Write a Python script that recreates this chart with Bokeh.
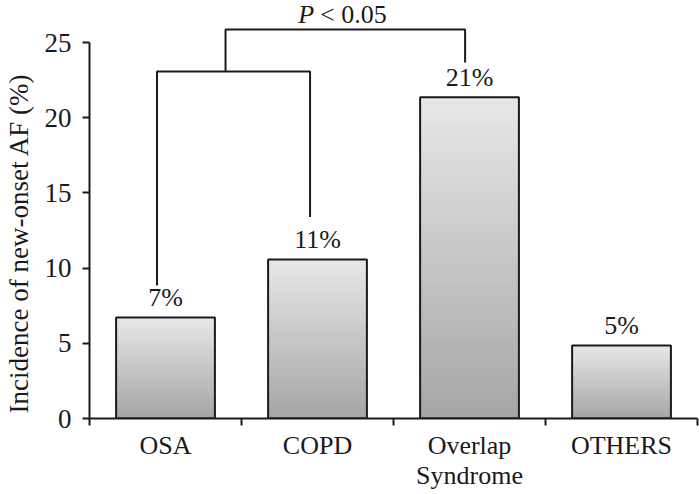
import numpy as np
from bokeh.plotting import figure
from bokeh.models import Range1d, FixedTicker
from bokeh.core.properties import value
from bokeh.embed import file_html
from bokeh.resources import INLINE

# ---- data ----
categories = ["OSA", "COPD", "Overlap\nSyndrome", "OTHERS"]
incidence = [6.72, 10.57, 21.36, 4.86]
pct_labels = ["7%", "11%", "21%", "5%"]
y_ticks = [0, 5, 10, 15, 20, 25]
y_title = "Incidence of new-onset AF (%)"

# significance brackets (data coordinates)
inner_bracket_x = [0.444, 0.444, 1.451, 1.451]
inner_bracket_y = [8.84, 23.07, 23.07, 13.4]
outer_bracket_x = [0.895, 0.895, 2.471, 2.471]
outer_bracket_y = [23.07, 25.86, 25.86, 23.67]
p_text_x = 1.477
p_text_y = 26.33

FONT = "Liberation Serif"
FS = "26px"
FS_AX = "27px"
INK = "#1a1a1a"

W, H = 699, 494
frame_left, frame_bottom_px = 85, 418
px_per_unit_y = 15.04
px_per_cat = 153.0

centers = [i + 0.5 for i in range(len(categories))]
bar_w = 0.65

x_end = (W - frame_left) / px_per_cat
y_end = frame_bottom_px / px_per_unit_y

p = figure(width=W, height=H, output_backend="svg", toolbar_location=None,
           x_range=Range1d(0, x_end), y_range=Range1d(0, y_end),
           min_border_left=frame_left, min_border_bottom=H - frame_bottom_px,
           min_border_top=0, min_border_right=0)
p.outline_line_color = None
p.xgrid.visible = False
p.ygrid.visible = False
p.background_fill_color = "white"
p.border_fill_color = "white"

# gradient bars: overlapping strips (light top -> darker bottom)
n = 60
top_c = np.array([232, 232, 232])
bot_c = np.array([166, 166, 166])
L, R, B, T, C = [], [], [], [], []
for cx, v in zip(centers, incidence):
    edges = np.linspace(0, v, n + 1)
    for k in range(n - 1, -1, -1):
        f = (k + 0.5) / n  # 0 bottom -> 1 top
        col = (bot_c + (top_c - bot_c) * f).astype(int)
        L.append(cx - bar_w / 2); R.append(cx + bar_w / 2)
        B.append(0); T.append(edges[k + 1])
        C.append("#%02x%02x%02x" % tuple(col))
p.quad(left=L, right=R, bottom=B, top=T, fill_color=C, line_color=None)
p.vbar(x=centers, top=incidence, width=bar_w, bottom=0, fill_color=None,
       line_color=INK, line_width=2)

# percentage labels (baseline ~10px above bar)
label_y = [v + 10 / px_per_unit_y for v in incidence]
p.text(x=centers, y=label_y, text=pct_labels, text_align="center",
       text_baseline="alphabetic", y_offset=-10, text_font=value(FONT),
       text_font_size=FS, text_color=INK)

# brackets
p.line(inner_bracket_x, inner_bracket_y, line_color=INK, line_width=2)
p.line(outer_bracket_x, outer_bracket_y, line_color=INK, line_width=2)
p.text(x=[p_text_x], y=[p_text_y], text=["P"], text_align="right",
       text_baseline="alphabetic", y_offset=-8, text_font=value(FONT),
       text_font_style="italic", text_font_size=FS, text_color=INK)
p.text(x=[p_text_x], y=[p_text_y], text=["< 0.05"], text_align="left",
       text_baseline="alphabetic", x_offset=6, y_offset=-8, text_font=value(FONT),
       text_font_size=FS, text_color=INK)

# x axis
xa = p.xaxis[0]
xa.ticker = FixedTicker(ticks=centers, minor_ticks=list(range(len(categories) + 1)))
xa.major_label_overrides = {c: lab for c, lab in zip(centers, categories)}
xa.bounds = (0, len(categories))
xa.axis_line_width = 2
xa.axis_line_color = INK
xa.major_tick_line_color = None
xa.major_tick_out = 7
xa.major_tick_in = 0
xa.minor_tick_line_color = INK
xa.minor_tick_line_width = 2
xa.minor_tick_out = 7
xa.minor_tick_in = 0
xa.major_label_standoff = 5
xa.major_label_text_font = FONT
xa.major_label_text_font_size = FS
xa.major_label_text_color = INK
xa.major_label_text_line_height = 1.05

# y axis
ya = p.yaxis[0]
ya.ticker = FixedTicker(ticks=y_ticks)
ya.bounds = (0, 25)
ya.minor_tick_line_color = None
ya.axis_line_width = 2
ya.axis_line_color = INK
ya.major_tick_line_width = 2
ya.major_tick_line_color = INK
ya.major_tick_out = 7
ya.major_tick_in = 0
ya.major_label_standoff = 11
ya.major_label_text_font = FONT
ya.major_label_text_font_size = FS_AX
ya.major_label_text_color = INK
# trailing no-break spaces shift the centred title down, as in the original
ya.axis_label = y_title + "\u00a0" * 10
ya.axis_label_text_font = FONT
ya.axis_label_text_font_size = FS_AX
ya.axis_label_text_font_style = "normal"
ya.axis_label_text_color = INK
ya.axis_label_standoff = 8

open("out.html", "w").write(file_html(p, INLINE))
